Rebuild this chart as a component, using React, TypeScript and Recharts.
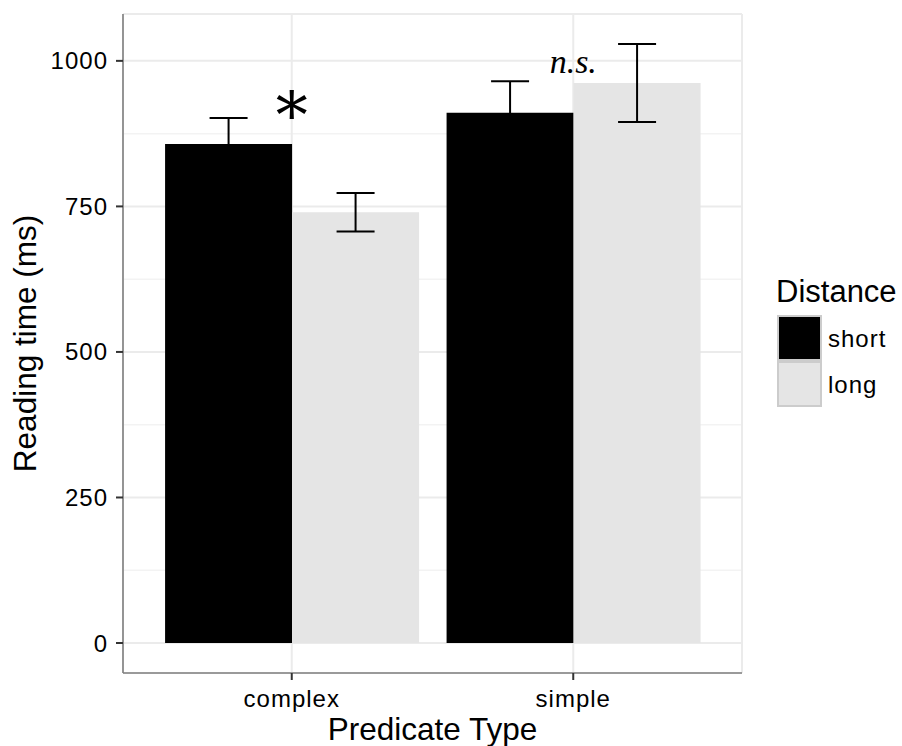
import React from 'react';
import { BarChart, Bar, XAxis, YAxis, CartesianGrid, ErrorBar, ReferenceDot, Legend } from 'recharts';

// categories and means (ms)
const categories = ['complex', 'simple'];
const seriesNames = ['short', 'long'];
const shortMeans = [857, 911];
const longMeans = [740, 962];
const shortErrors = [45, 54];
const longErrors = [33, 67];

const yTicks = [0, 250, 500, 750, 1000];
const minorTicks = [125, 375, 625, 875];

// significance marks above each pair
const markCategories = ['complex', 'simple'];
const markValues = [868, 980];
const markLabels = ['*', 'n.s.'];

const data = categories.map((type, i) => ({
  type,
  short: shortMeans[i],
  long: longMeans[i],
  shortErr: shortErrors[i],
  longErr: longErrors[i],
}));

const SHORT_COLOR = '#000000';
const LONG_COLOR = '#e5e5e5';
const BORDER = '#7f7f7f';
const TICK = '#333333';
const SANS = '"Liberation Sans", Arial, sans-serif';
const SERIF = '"Liberation Serif", "Times New Roman", serif';

const tickStyle = { fill: '#000', fontSize: 24, letterSpacing: 1, fontFamily: SANS };

const YTitle = (props: any) => {
  const { viewBox } = props;
  const cx = viewBox.x + 36;
  const cy = viewBox.y + viewBox.height / 2;
  return (
    <text x={cx} y={cy} transform={`rotate(-90 ${cx} ${cy})`} textAnchor="middle" fontSize={31.5} fontFamily={SANS} fill="#000">
      Reading time (ms)
    </text>
  );
};

const XTitle = (props: any) => {
  const { viewBox } = props;
  return (
    <text x={viewBox.x + viewBox.width / 2} y={viewBox.y + viewBox.height - 6} textAnchor="middle" fontSize={31.5} fontFamily={SANS} fill="#000">
      Predicate Type
    </text>
  );
};

const renderLegend = (props: any) => {
  const items = [...(props.payload || [])].sort(
    (a: any, b: any) => seriesNames.indexOf(a.value) - seriesNames.indexOf(b.value)
  );
  return (
    <svg width={132} height={140} style={{ display: 'block' }}>
      <text x={6} y={32} fontSize={31} fontFamily={SANS} fill="#000">Distance</text>
      {items.map((p: any, i: number) => (
        <g key={p.value}>
          <rect x={8} y={46 + i * 46} width={43} height={44} fill={p.color} stroke="#cccccc" strokeWidth={2} />
          <text x={58} y={46 + i * 46 + 22} dominantBaseline="central" fontSize={24} letterSpacing={1} fontFamily={SANS} fill="#000">
            {p.value}
          </text>
        </g>
      ))}
    </svg>
  );
};

const renderMark = (i: number) => (p: any) => (
  <text
    x={p.cx}
    y={p.cy}
    textAnchor="middle"
    fontFamily={i === 0 ? '"DejaVu Serif", serif' : SERIF}
    fontSize={i === 0 ? 64 : 34}
    fontStyle={i === 0 ? 'normal' : 'italic'}
    fill="#000"
  >
    {markLabels[i]}
  </text>
);

export default function App() {
  return (
    <div style={{ position: 'absolute', left: 0, top: 0, width: 902, height: 746, background: '#fff' }}>
      <BarChart
        width={902}
        height={746}
        data={data}
        margin={{ top: 14, right: 160, left: 0, bottom: 0 }}
        barCategoryGap="5%"
        barGap={0}
      >
        <CartesianGrid vertical={false} horizontalValues={minorTicks} stroke="#f3f3f3" strokeWidth={1.5} />
        <CartesianGrid stroke="#ebebeb" strokeWidth={2} />
        <XAxis
          dataKey="type"
          height={73}
          padding={{ left: 28, right: 28 }}
          axisLine={{ stroke: BORDER, strokeWidth: 1.6 }}
          tickLine={{ stroke: TICK, strokeWidth: 2 }}
          tickSize={7}
          tickMargin={10}
          tick={tickStyle}
          label={<XTitle />}
        />
        <XAxis xAxisId="top" dataKey="type" orientation="top" height={0} tick={false} tickLine={false} axisLine={{ stroke: BORDER, strokeWidth: 1.6 }} />
        <YAxis
          type="number"
          width={123}
          domain={[-51.5, 1080.5]}
          ticks={yTicks}
          allowDataOverflow
          axisLine={{ stroke: BORDER, strokeWidth: 1.6 }}
          tickLine={{ stroke: TICK, strokeWidth: 2 }}
          tickSize={7}
          tickMargin={8}
          tick={tickStyle}
          label={<YTitle />}
        />
        <YAxis yAxisId="right" orientation="right" width={0} tick={false} tickLine={false} axisLine={{ stroke: BORDER, strokeWidth: 1.6 }} />
        <Legend
          layout="vertical"
          align="center"
          verticalAlign="middle"
          content={renderLegend}
          wrapperStyle={{ left: 770, top: 270, width: 132, height: 140 }}
        />
        <Bar dataKey="short" name="short" fill={SHORT_COLOR} isAnimationActive={false}>
          <ErrorBar dataKey="shortErr" direction="y" width={19} stroke="#000" strokeWidth={2} isAnimationActive={false} />
        </Bar>
        <Bar dataKey="long" name="long" fill={LONG_COLOR} isAnimationActive={false}>
          <ErrorBar dataKey="longErr" direction="y" width={19} stroke="#000" strokeWidth={2} isAnimationActive={false} />
        </Bar>
        {markCategories.map((c, i) => (
          <ReferenceDot key={c} x={c} y={markValues[i]} r={0} shape={renderMark(i)} />
        ))}
      </BarChart>
    </div>
  );
}
